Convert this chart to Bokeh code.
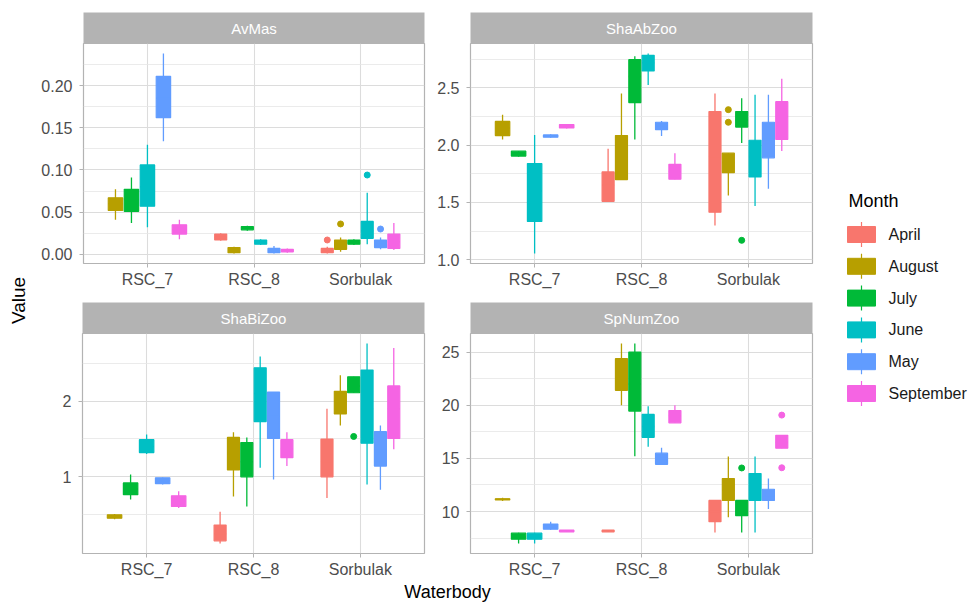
import math
from bokeh.plotting import figure
from bokeh.layouts import row, column
from bokeh.models import FixedTicker, PrintfTickFormatter, Range1d, ColumnDataSource
from bokeh.core.properties import value
from bokeh.embed import file_html
from bokeh.resources import INLINE

FONT = "Liberation Sans"
SITES = ["RSC_7", "RSC_8", "Sorbulak"]
MONTHS = ["April", "August", "July", "June", "May", "September"]
COLORS = ["#F8766D", "#B79F00", "#00BA38", "#00BFC4", "#619CFF", "#F564E3"]

# box order within each waterbody (same in every panel)
BOX_SITE = ["RSC_7"] * 5 + ["RSC_8"] * 6 + ["Sorbulak"] * 6
BOX_MONTH = (["August", "July", "June", "May", "September"]
             + ["April", "August", "July", "June", "May", "September"]
             + ["April", "August", "July", "June", "May", "September"])

# ---- AvMas ----
AVMAS_LOW = [0.041, 0.037, 0.032, 0.134, 0.018, 0.016, 0.001, 0.028, 0.011, 0.001, 0.002, 0.001, 0.003, 0.011, 0.012, 0.006, 0.005]
AVMAS_Q1 = [0.052, 0.051, 0.057, 0.162, 0.024, 0.017, 0.002, 0.029, 0.012, 0.002, 0.003, 0.002, 0.006, 0.012, 0.019, 0.008, 0.007]
AVMAS_MED = [0.060, 0.065, 0.080, 0.185, 0.029, 0.020, 0.005, 0.031, 0.014, 0.004, 0.004, 0.004, 0.011, 0.014, 0.028, 0.012, 0.015]
AVMAS_Q3 = [0.067, 0.077, 0.106, 0.211, 0.035, 0.024, 0.008, 0.033, 0.017, 0.007, 0.006, 0.007, 0.017, 0.017, 0.039, 0.017, 0.024]
AVMAS_HIGH = [0.077, 0.091, 0.130, 0.238, 0.041, 0.025, 0.009, 0.034, 0.018, 0.010, 0.007, 0.009, 0.020, 0.018, 0.073, 0.020, 0.037]
AVMAS_OUT_SITE = ["Sorbulak", "Sorbulak", "Sorbulak", "Sorbulak"]
AVMAS_OUT_MONTH = ["April", "August", "June", "May"]
AVMAS_OUT = [0.017, 0.036, 0.094, 0.030]

# ---- ShaAbZoo ----
SHAAB_LOW = [2.05, 1.90, 1.055, 2.065, 2.145, 1.51, 1.70, 2.05, 2.525, 2.08, 1.703, 1.30, 1.56, 2.02, 1.47, 1.62, 1.95]
SHAAB_Q1 = [2.084, 1.905, 1.334, 2.07, 2.15, 1.51, 1.70, 2.372, 2.648, 2.135, 1.703, 1.415, 1.76, 2.158, 1.723, 1.89, 2.05]
SHAAB_MED = [2.15, 1.925, 1.60, 2.08, 2.165, 1.65, 1.90, 2.60, 2.72, 2.17, 1.77, 1.90, 1.85, 2.22, 1.90, 2.05, 2.25]
SHAAB_Q3 = [2.207, 1.948, 1.84, 2.09, 2.18, 1.767, 2.084, 2.746, 2.784, 2.20, 1.833, 2.294, 1.93, 2.294, 2.043, 2.20, 2.38]
SHAAB_HIGH = [2.265, 1.95, 2.09, 2.095, 2.185, 1.968, 2.45, 2.775, 2.80, 2.21, 1.93, 2.45, 1.93, 2.41, 2.44, 2.44, 2.58]
SHAAB_OUT_SITE = ["Sorbulak", "Sorbulak", "Sorbulak"]
SHAAB_OUT_MONTH = ["August", "August", "July"]
SHAAB_OUT = [2.31, 2.20, 1.17]

# ---- ShaBiZoo ----
SHABI_LOW = [0.44, 0.70, 1.30, 0.90, 0.59, 0.12, 0.74, 0.61, 1.12, 0.964, 1.142, 0.72, 1.676, 2.11, 0.898, 0.83, 1.364]
SHABI_Q1 = [0.453, 0.764, 1.32, 0.91, 0.61, 0.155, 1.09, 1.0, 1.73, 1.507, 1.253, 1.0, 1.831, 2.11, 1.444, 1.142, 1.507]
SHABI_MED = [0.47, 0.84, 1.40, 0.95, 0.68, 0.25, 1.30, 1.20, 2.10, 1.80, 1.37, 1.20, 2.00, 2.20, 1.90, 1.35, 1.90]
SHABI_Q3 = [0.498, 0.92, 1.49, 0.987, 0.75, 0.364, 1.52, 1.453, 2.44, 2.12, 1.49, 1.498, 2.129, 2.32, 2.409, 1.596, 2.20]
SHABI_HIGH = [0.51, 1.03, 1.56, 0.99, 0.81, 0.54, 1.587, 1.52, 2.587, 2.12, 1.587, 1.898, 2.342, 2.32, 2.76, 1.676, 2.70]
SHABI_OUT_SITE = ["Sorbulak"]
SHABI_OUT_MONTH = ["July"]
SHABI_OUT = [1.533]

# ---- SpNumZoo ----
SPNUM_LOW = [11.0, 7.0, 7.0, 8.3, 8.1, 8.1, 20.0, 15.2, 16.1, 14.44, 18.34, 8.03, 9.46, 8.03, 8.03, 10.25, 15.96]
SPNUM_Q1 = [11.1, 7.4, 7.4, 8.35, 8.1, 8.1, 21.4, 19.45, 16.98, 14.44, 18.34, 9.05, 11.05, 9.62, 11.05, 11.05, 15.96]
SPNUM_MED = [11.15, 7.6, 7.6, 8.6, 8.2, 8.2, 23.0, 22.0, 18.0, 15.0, 19.0, 10.0, 12.0, 10.0, 12.0, 11.5, 16.5]
SPNUM_Q3 = [11.2, 7.97, 7.97, 8.83, 8.25, 8.25, 24.37, 25.0, 19.13, 15.49, 19.5, 11.05, 13.1, 11.05, 13.58, 12.1, 17.17]
SPNUM_HIGH = [11.3, 8.0, 8.0, 9.05, 8.25, 8.25, 25.8, 25.8, 19.9, 16.0, 20.0, 11.05, 15.17, 11.05, 15.17, 13.1, 17.17]
SPNUM_OUT_SITE = ["Sorbulak", "Sorbulak", "Sorbulak"]
SPNUM_OUT_MONTH = ["July", "September", "September"]
SPNUM_OUT = [14.1, 19.07, 14.12]

FRAME_W = 342
FRAME_H = 220
GREY70 = "#B3B3B3"


def dodge(sites, months):
    xs, ws = {}, {}
    for s in SITES:
        present = [m for ss, m in zip(sites, months) if ss == s]
        n = len(present)
        slot = 0.75 / n
        for k, m in enumerate(present):
            xs[(s, m)] = SITES.index(s) + 1 - 0.375 + (k + 0.5) * slot
            ws[(s, m)] = slot * 0.9
    return xs, ws


def strip(title, W, mbl, mbr, top):
    s = figure(width=W, height=31 + top, x_range=Range1d(0, 1), y_range=Range1d(0, 1),
               x_axis_type=None, y_axis_type=None, min_border_left=mbl, min_border_right=mbr,
               min_border_top=top, min_border_bottom=0, toolbar_location=None,
               output_backend="svg", background_fill_color=GREY70, outline_line_color=None,
               title=None)
    s.text(x=[0.5], y=[0.5], text=[title], text_color="white", text_align="center",
           text_baseline="middle", text_font=value(FONT), text_font_size="15px")
    return s


def panel(title, low, q1, med, q3, high, o_site, o_month, o_val, ticks, minor, fmt,
          mbl, mbr, mbb, top):
    xd, wd = dodge(BOX_SITE, BOX_MONTH)
    x = [xd[(s, m)] for s, m in zip(BOX_SITE, BOX_MONTH)]
    w = [wd[(s, m)] for s, m in zip(BOX_SITE, BOX_MONTH)]
    col = [COLORS[MONTHS.index(m)] for m in BOX_MONTH]
    src = ColumnDataSource(dict(x=x, w=w, xl=[a - b / 2 for a, b in zip(x, w)],
                                xr=[a + b / 2 for a, b in zip(x, w)],
                                low=low, q1=q1, med=med, q3=q3, high=high, c=col))
    lo = min(low + o_val)
    hi = max(high + o_val)
    pad = 0.05 * (hi - lo)
    W = mbl + FRAME_W + mbr
    p = figure(width=W, height=FRAME_H + mbb, x_range=Range1d(0.4, 3.6),
               y_range=Range1d(lo - pad, hi + pad), min_border_left=mbl,
               min_border_right=mbr, min_border_top=0, min_border_bottom=mbb,
               toolbar_location=None, output_backend="svg", title=None)
    p.outline_line_color = GREY70
    p.outline_line_width = 1.2
    p.segment(x0="x", y0="low", x1="x", y1="high", line_color="c", line_width=1.3, source=src)
    p.vbar(x="x", width="w", top="q3", bottom="q1", fill_color="c", line_color="c",
           line_width=1.2, source=src)
    p.segment(x0="xl", y0="med", x1="xr", y1="med", line_color="c", line_width=1.5, source=src)
    if o_val:
        ox = [xd[(s, m)] for s, m in zip(o_site, o_month)]
        oc = [COLORS[MONTHS.index(m)] for m in o_month]
        p.scatter(x=ox, y=o_val, size=6, color=oc)

    p.xaxis.ticker = FixedTicker(ticks=[1, 2, 3])
    p.xaxis.major_label_overrides = {i + 1: s for i, s in enumerate(SITES)}
    p.yaxis.ticker = FixedTicker(ticks=ticks, minor_ticks=minor)
    p.yaxis.formatter = PrintfTickFormatter(format=fmt)
    p.xgrid.ticker = FixedTicker(ticks=[1, 2, 3])
    p.ygrid.ticker = FixedTicker(ticks=ticks, minor_ticks=minor)
    p.grid.grid_line_color = "#DCDCDC"
    p.grid.grid_line_width = 1.1
    p.ygrid.minor_grid_line_color = "#E6E6E6"
    p.ygrid.minor_grid_line_width = 0.8
    for ax in (p.xaxis, p.yaxis):
        ax.axis_line_color = None
        ax.major_tick_line_color = GREY70
        ax.major_tick_out = 4
        ax.major_tick_in = 0
        ax.minor_tick_line_color = None
        ax.major_label_text_color = "#4D4D4D"
        ax.major_label_text_font = FONT
        ax.major_label_text_font_size = "16px"
    p.yaxis.major_label_standoff = 7
    p.xaxis.major_label_standoff = 3
    return column(strip(title, W, mbl, mbr, top), p, spacing=0)


TOP_MB = 39
BOT_MB = 27
tl = panel("AvMas", AVMAS_LOW, AVMAS_Q1, AVMAS_MED, AVMAS_Q3, AVMAS_HIGH,
           AVMAS_OUT_SITE, AVMAS_OUT_MONTH, AVMAS_OUT,
           [0.0, 0.05, 0.10, 0.15, 0.20], [0.025, 0.075, 0.125, 0.175, 0.225], "%.2f",
           44, 10, TOP_MB, 12)
tr = panel("ShaAbZoo", SHAAB_LOW, SHAAB_Q1, SHAAB_MED, SHAAB_Q3, SHAAB_HIGH,
           SHAAB_OUT_SITE, SHAAB_OUT_MONTH, SHAAB_OUT,
           [1.0, 1.5, 2.0, 2.5], [1.25, 1.75, 2.25, 2.75], "%.1f",
           36, 10, TOP_MB, 12)
bl = panel("ShaBiZoo", SHABI_LOW, SHABI_Q1, SHABI_MED, SHABI_Q3, SHABI_HIGH,
           SHABI_OUT_SITE, SHABI_OUT_MONTH, SHABI_OUT,
           [1, 2], [0.5, 1.5, 2.5], "%d",
           44, 10, BOT_MB, 0)
br = panel("SpNumZoo", SPNUM_LOW, SPNUM_Q1, SPNUM_MED, SPNUM_Q3, SPNUM_HIGH,
           SPNUM_OUT_SITE, SPNUM_OUT_MONTH, SPNUM_OUT,
           [10, 15, 20, 25], [7.5, 12.5, 17.5, 22.5], "%d",
           36, 10, BOT_MB, 0)

TOTAL_H = 602
GRID_W = (44 + FRAME_W + 10) + (36 + FRAME_W + 10)
XLAB_H = TOTAL_H - (12 + 31 + FRAME_H + TOP_MB + 31 + FRAME_H + BOT_MB)


def blank(w, h):
    f = figure(width=w, height=h, x_range=Range1d(0, w), y_range=Range1d(0, h),
               x_axis_type=None, y_axis_type=None, min_border=0, toolbar_location=None,
               output_backend="svg", outline_line_color=None, title=None)
    return f


xlab = blank(GRID_W, XLAB_H)
xlab.text(x=[44 + 365], y=[XLAB_H / 2], text=["Waterbody"], text_align="center",
          text_baseline="middle", text_color="black", text_font=value(FONT),
          text_font_size="18px")

YLAB_W = 38
ylab = blank(YLAB_W, TOTAL_H)
ylab.text(x=[18], y=[TOTAL_H - 300], text=["Value"], angle=math.pi / 2, text_align="center",
          text_baseline="middle", text_color="black", text_font=value(FONT),
          text_font_size="19px")

LEG_W = 152
leg = blank(LEG_W, TOTAL_H)
leg.text(x=[26], y=[TOTAL_H - 200], text=["Month"], text_align="left", text_baseline="middle",
         text_color="black", text_font=value(FONT), text_font_size="18px")
ky = [TOTAL_H - (234 + 31.8 * i) for i in range(len(MONTHS))]
leg.segment(x0=[39] * len(MONTHS), x1=[39] * len(MONTHS), y0=[y - 12.5 for y in ky],
            y1=[y + 12.5 for y in ky], line_color=COLORS, line_width=1.2)
leg.rect(x=[39] * len(MONTHS), y=ky, width=28, height=16, fill_color=COLORS, line_color=COLORS)
leg.text(x=[66] * len(MONTHS), y=ky, text=MONTHS, text_align="left", text_baseline="middle",
         text_color="#1A1A1A", text_font=value(FONT), text_font_size="16px")

grid = column(row(tl, tr, spacing=0), row(bl, br, spacing=0), xlab, spacing=0)
layout = row(ylab, grid, leg, spacing=0)

open("out.html", "w").write(file_html(layout, INLINE))
